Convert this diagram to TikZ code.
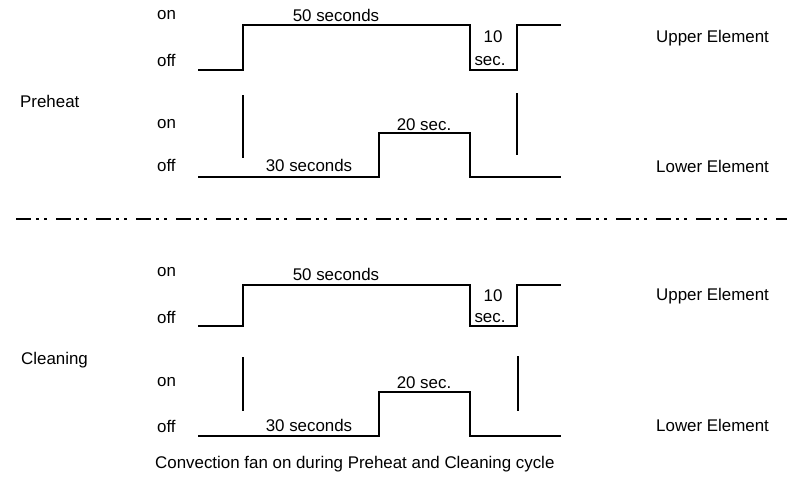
\documentclass[tikz,border=0pt]{standalone}
\usepackage{fontspec}
\setmainfont{Liberation Sans}
\begin{document}
\begin{tikzpicture}[x=1pt,y=-1pt,
  lbl/.style={font=\fontsize{16.9}{18}\selectfont, inner sep=0pt},
  wave/.style={line width=1.2pt, line join=miter},
  marker/.style={line width=1.1pt},
  sep/.style={line width=1.8pt, dash pattern=on 15pt off 5pt on 3pt off 5pt on 3pt off 9pt}]
\useasboundingbox (0,0) rectangle (787,479);

% ---------- Preheat ----------
\draw[wave] (198,70) -- (243,70) -- (243,25) -- (470,25) -- (470,70) -- (517,70) -- (517,25) -- (561,25);
\draw[wave] (198,177) -- (379,177) -- (379,133) -- (470,133) -- (470,177) -- (561,177);
\draw[marker] (243,95) -- (243,158);
\draw[marker] (517,93) -- (517,155);

\node[lbl, anchor=west] (pon1)  at (157,15)  {on};
\node[lbl, anchor=west] (poff1) at (157,60)  {off};
\node[lbl, anchor=west] (pon2)  at (157,124) {on};
\node[lbl, anchor=west] (poff2) at (157,165) {off};
\node[lbl] (p50) at (336,15)  {50 seconds};
\node[lbl] (p10) at (493,37)  {10};
\node[lbl] (psec) at (490,61) {sec.};
\node[lbl] (p20) at (424,125) {20 sec.};
\node[lbl] (p30) at (309,165) {30 seconds};
\node[lbl, anchor=west] (pup) at (656,38)  {Upper Element};
\node[lbl, anchor=west] (plo) at (656,166) {Lower Element};
\node[lbl, anchor=west] (pre) at (20,101)  {Preheat};

% ---------- separator ----------
\draw[sep] (16,219) -- (787,219);

% ---------- Cleaning ----------
\draw[wave] (198,326) -- (243,326) -- (243,285) -- (470,285) -- (470,326) -- (517,326) -- (517,285) -- (561,285);
\draw[wave] (198,436) -- (379,436) -- (379,392) -- (470,392) -- (470,436) -- (561,436);
\draw[marker] (243,357) -- (243,411);
\draw[marker] (518,356) -- (518,411);

\node[lbl, anchor=west] (con1)  at (157,272) {on};
\node[lbl, anchor=west] (coff1) at (157,317) {off};
\node[lbl, anchor=west] (con2)  at (157,382) {on};
\node[lbl, anchor=west] (coff2) at (157,426) {off};
\node[lbl] (c50) at (336,274)  {50 seconds};
\node[lbl] (c10) at (493,296)  {10};
\node[lbl] (csec) at (490,318) {sec.};
\node[lbl] (c20) at (424,383) {20 sec.};
\node[lbl] (c30) at (309,425) {30 seconds};
\node[lbl, anchor=west] (cup) at (656,296) {Upper Element};
\node[lbl, anchor=west] (clo) at (656,425) {Lower Element};
\node[lbl, anchor=west] (cln) at (21,360)  {Cleaning};

\node[lbl, anchor=west] (fan) at (155,464) {Convection fan on during Preheat and Cleaning cycle};
\end{tikzpicture}
\end{document}
